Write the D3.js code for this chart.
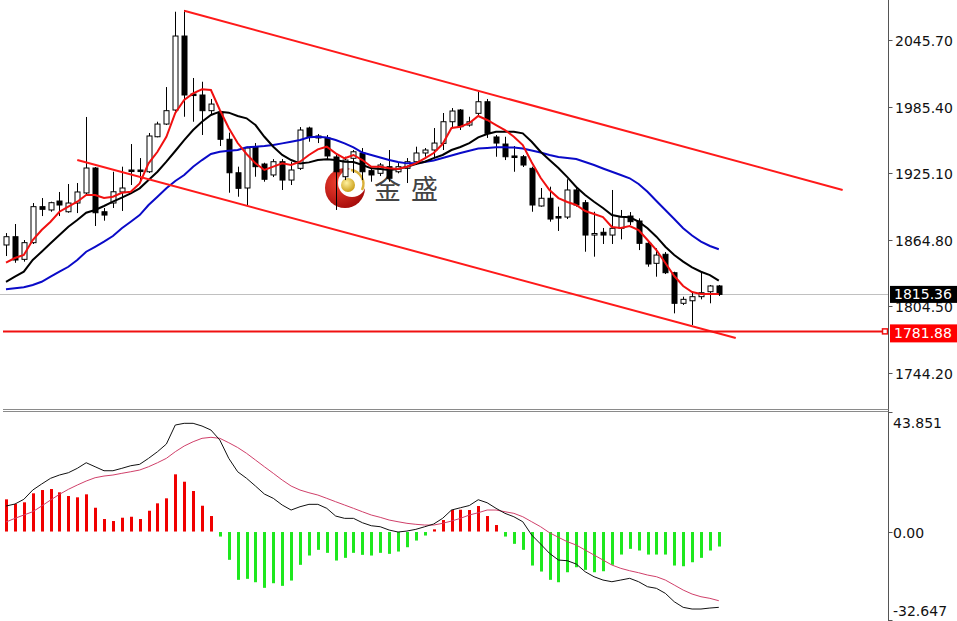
<!DOCTYPE html>
<html><head><meta charset="utf-8">
<script src="https://cdn.jsdelivr.net/npm/d3@7"></script>
<style>body{margin:0;background:#fff;overflow:hidden}svg{display:block}</style>
</head><body><svg id="c" width="957" height="621"></svg>
<script>
// ---------- DATA ----------
const opens  = [1860.1,1867.6,1847.1,1862.2,1894.8,1891.8,1899.9,1890.2,1898.1,1907.2,
1929.8,1890.2,1898.1,1908.1,1928.0,1928.0,1926.4,1958.1,1969.6,1982.3,
2049.3,1996.8,1995.9,1981.7,1979.6,1955.8,1925.5,1911.7,1949.1,1933.4,
1923.5,1935.5,1918.9,1929.5,1966.0,1957.0,1957.0,1939.8,1921.9,1938.6,
1943.4,1927.4,1925.0,1931.0,1926.4,1929.5,1935.5,1943.4,1946.1,1952.1,
1971.7,1982.3,1968.7,1979.3,1989.8,1957.9,1951.5,1940.7,1940.0,1929.5,
1895.4,1902.4,1885.9,1885.4,1909.9,1898.4,1869.1,1871.6,1869.1,1875.2,
1886.3,1881.8,1861.6,1843.5,1851.7,1835.0,1807.3,1809.6,1813.3,1817.8,1823.0];
const highs  = [1870.9,1879.1,1864.6,1898.1,1902.6,1899.3,1908.1,1915.3,1916.2,1976.0,
1930.7,1893.6,1926.4,1931.0,1951.5,1938.8,1961.5,1971.7,2003.1,2071.3,
2072.8,2011.3,2007.9,1992.3,1980.8,1961.8,1931.0,1949.1,1952.4,1934.6,
1937.9,1937.9,1935.5,1966.9,1967.2,1960.6,1959.7,1941.6,1940.0,1946.1,
1947.9,1931.0,1934.3,1946.1,1934.3,1938.8,1949.1,1947.9,1966.0,1979.6,
1984.1,1983.2,1976.2,1998.9,1992.3,1959.7,1958.1,1949.7,1941.6,1931.0,
1911.7,1912.9,1894.8,1919.6,1912.9,1900.8,1890.2,1875.5,1909.9,1891.8,
1889.9,1884.2,1864.6,1857.1,1853.7,1835.9,1813.3,1817.8,1835.9,1823.9,1823.9];
const lows   = [1850.1,1844.0,1845.0,1861.0,1886.3,1890.2,1886.3,1889.3,1889.0,1905.3,
1877.3,1882.1,1893.6,1890.9,1914.4,1917.4,1925.3,1957.6,1968.7,1980.8,
1976.2,1971.7,1959.7,1977.8,1949.7,1907.4,1903.8,1896.3,1921.9,1917.4,
1921.6,1909.9,1914.4,1928.0,1953.6,1952.4,1937.9,1891.8,1918.9,1925.3,
1918.9,1917.4,1922.5,1917.4,1925.0,1916.2,1932.5,1940.0,1938.8,1946.1,
1966.0,1964.2,1967.2,1977.8,1957.0,1940.0,1937.0,1926.4,1930.7,1890.2,
1894.8,1881.2,1872.8,1883.6,1894.8,1854.0,1849.5,1861.0,1861.0,1865.2,
1878.2,1855.5,1840.4,1831.4,1833.8,1798.2,1805.8,1787.6,1810.9,1807.3,1813.9];
const closes = [1867.6,1846.5,1862.2,1894.8,1892.4,1898.4,1896.3,1898.1,1908.1,1929.8,
1889.3,1887.2,1908.3,1911.7,1926.6,1926.6,1958.8,1969.6,1981.7,2049.3,
1995.9,1995.4,1981.7,1987.7,1955.8,1925.5,1911.4,1947.9,1931.0,1919.6,
1935.5,1918.9,1928.0,1964.2,1957.9,1958.8,1940.7,1926.4,1937.0,1944.5,
1926.4,1923.5,1932.5,1920.5,1931.0,1935.5,1943.4,1946.1,1952.4,1971.7,
1981.4,1967.2,1971.7,1989.8,1961.2,1952.4,1940.0,1939.3,1932.5,1896.3,
1902.4,1883.6,1884.5,1909.9,1896.3,1869.1,1870.5,1869.1,1875.2,1885.7,
1881.2,1861.6,1842.9,1851.0,1835.0,1807.3,1810.9,1813.3,1816.9,1823.0,1815.36];
const maFast = [1844.1,1848.3,1851.0,1864.6,1873.7,1881.2,1890.2,1894.8,1899.3,1905.3,
1905.3,1902.6,1903.8,1907.4,1908.3,1915.9,1934.0,1944.5,1958.1,1979.6,
1991.4,1997.4,2001.0,2000.4,1982.3,1966.0,1952.4,1942.5,1934.0,1928.0,
1931.0,1934.0,1932.5,1935.5,1941.6,1946.7,1949.1,1943.1,1938.6,1941.6,
1937.0,1931.0,1931.0,1929.5,1928.9,1931.0,1934.0,1938.6,1943.4,1951.5,
1966.0,1967.2,1970.5,1976.9,1973.3,1968.7,1964.2,1958.1,1950.6,1935.0,
1921.0,1909.9,1902.6,1899.0,1896.3,1890.9,1888.1,1885.4,1876.4,1875.5,
1877.3,1873.7,1864.6,1855.5,1843.8,1832.0,1823.0,1817.5,1815.7,1815.7,1815.7];
const maMid = [1826.8,1831.4,1835.9,1846.5,1854.0,1861.6,1869.1,1876.6,1882.7,1889.3,
1891.8,1895.4,1899.3,1902.9,1906.9,1911.4,1918.9,1926.4,1935.5,1945.2,
1955.1,1964.2,1971.7,1977.8,1980.8,1979.9,1976.9,1974.8,1968.7,1958.1,
1949.1,1941.6,1937.0,1934.0,1934.9,1937.0,1937.7,1937.0,1935.5,1935.2,
1932.5,1929.5,1928.9,1928.0,1928.9,1931.0,1933.4,1935.5,1938.8,1941.6,
1946.1,1948.8,1952.4,1957.6,1960.6,1962.7,1962.7,1962.7,1961.2,1953.6,
1944.5,1937.0,1929.8,1921.6,1912.6,1905.3,1899.3,1893.6,1887.2,1885.7,
1885.2,1881.2,1875.2,1867.6,1858.5,1851.0,1845.0,1839.9,1835.9,1832.9,1827.8];
const maSlow = [1820.0,1820.9,1821.8,1823.9,1826.8,1831.4,1835.9,1840.4,1846.5,1854.0,
1858.5,1863.1,1868.2,1875.2,1881.2,1887.2,1896.3,1903.8,1911.4,1918.0,
1923.5,1931.0,1937.0,1942.5,1944.5,1945.5,1946.1,1948.5,1949.1,1949.7,
1950.6,1952.1,1953.6,1955.1,1957.6,1958.1,1957.4,1955.1,1952.1,1948.4,
1943.8,1941.6,1939.3,1937.0,1935.2,1934.0,1934.0,1935.2,1936.6,1938.8,
1941.1,1943.4,1945.5,1947.4,1947.9,1948.5,1948.5,1948.4,1947.4,1945.6,
1943.8,1941.6,1939.8,1938.8,1937.9,1935.2,1932.5,1929.4,1926.4,1923.5,
1920.5,1915.3,1908.3,1899.9,1891.8,1883.6,1875.2,1868.7,1863.1,1859.2,1856.2];
const macdHist = [11.84,10.11,10.74,14.05,15.26,15.63,14.42,13.06,12.58,13.68,
8.75,4.60,3.86,5.08,5.44,4.60,7.65,10.37,12.21,21.04,
18.32,14.90,9.49,5.70,-1.66,-10.22,-17.58,-17.21,-18.46,-20.52,
-18.83,-19.79,-17.84,-12.06,-8.64,-6.55,-7.65,-10.48,-9.49,-7.65,
-8.39,-8.64,-7.65,-8.02,-7.17,-5.59,-3.13,-1.29,0.81,4.23,
7.91,8.02,7.91,9.38,5.70,2.39,-1.66,-4.34,-6.55,-12.32,
-14.53,-17.58,-18.46,-14.79,-12.95,-13.90,-14.79,-14.42,-12.06,-8.28,
-6.18,-6.80,-8.28,-8.28,-8.28,-12.32,-12.58,-11.11,-9.49,-6.80,-5.33];
const macdLine = [9.38,10.11,11.84,15.26,17.47,19.57,20.78,21.63,23.24,25.30,
23.83,22.36,22.36,23.24,24.20,24.72,26.92,29.35,32.18,39.17,
39.80,39.80,38.80,37.33,33.65,26.92,21.99,19.57,16.73,13.79,
12.21,9.75,7.91,9.12,10.00,10.00,8.53,5.70,4.85,4.85,
3.24,2.13,1.77,0.55,-0.18,0.18,0.81,1.77,2.76,4.85,
7.91,8.75,9.56,11.70,10.59,8.53,6.69,5.44,3.60,-1.29,
-4.60,-8.02,-10.48,-10.74,-11.95,-14.79,-16.62,-17.84,-18.46,-17.84,
-17.21,-18.46,-20.30,-20.89,-22.73,-25.82,-27.88,-28.50,-28.50,-28.14,-27.88];
const macdSignal = [3.49,4.85,6.07,7.28,9.38,11.59,13.68,15.52,17.10,18.57,
19.79,20.41,20.78,21.41,21.99,22.62,23.83,25.30,26.92,29.35,
31.45,33.03,34.28,34.65,34.28,32.66,30.90,28.76,26.30,23.83,
21.41,18.94,16.73,15.26,14.27,13.42,12.21,10.96,9.75,8.53,
7.28,6.07,5.22,4.23,3.60,3.02,2.65,2.39,2.39,3.02,
3.86,4.85,6.07,6.91,7.91,7.91,7.28,6.69,5.44,3.60,
1.77,-0.44,-2.13,-3.75,-4.97,-6.80,-8.64,-10.48,-12.32,-13.54,
-14.42,-15.15,-16.00,-16.62,-17.84,-19.68,-21.52,-22.99,-23.98,-24.57,-25.45];
const priceTicks = [2045.70,1985.40,1925.10,1864.80,1804.50,1744.20];
const macdTicks = [43.851,0.00,-32.647];
const upperChannel = [[20.0,2072.2],[93.9,1909.9]];
const lowerChannel = [[8.0,1937.1],[81.9,1775.9]];
const lastPrice = 1815.36;
const levelPrice = 1781.88;
const logoText = "金盛";

// ---------- LAYOUT ----------
const svg = d3.select("#c");
const axisX = 888.5;
const n = closes.length;
const x = d3.scaleLinear().domain([0, n-1]).range([6, 718.8]);
const y = d3.scaleLinear().domain([1744.2, 2045.7]).range([373, 40]);
const ym = d3.scaleLinear().domain([-32.647, 43.851]).range([620.3, 412.3]);
const font = "DejaVu Sans, Verdana, sans-serif";

const main = svg.append("g");
main.append("clipPath").attr("id","mc").append("rect").attr("x",0).attr("y",0).attr("width",axisX).attr("height",408);

// logo watermark (background)
const logo = main.append("g");
const defs = svg.append("defs");
const rg = defs.append("radialGradient").attr("id","lg").attr("cx","35%").attr("cy","35%").attr("r","75%");
rg.append("stop").attr("offset","0%").attr("stop-color","#f04030");
rg.append("stop").attr("offset","100%").attr("stop-color","#a00808");
const gg = defs.append("radialGradient").attr("id","gb").attr("cx","40%").attr("cy","35%").attr("r","70%");
gg.append("stop").attr("offset","0%").attr("stop-color","#fff2a0");
gg.append("stop").attr("offset","100%").attr("stop-color","#c89a10");
logo.append("circle").attr("cx",345).attr("cy",188).attr("r",20).attr("fill","url(#lg)");
logo.append("circle").attr("cx",352).attr("cy",183).attr("r",14).attr("fill","#fff");
logo.append("path").attr("d","M 351 170 A 14 14 0 0 1 362 190").attr("fill","none").attr("stroke","#d9b03a").attr("stroke-width",2.5);
logo.append("circle").attr("cx",348).attr("cy",185).attr("r",7).attr("fill","url(#gb)");
logo.append("text").attr("x",374).attr("y",199).attr("font-family","Noto Sans CJK SC").attr("font-size",27)
  .attr("fill","#444").attr("letter-spacing","10px").text(logoText);

const plot = main.append("g").attr("clip-path","url(#mc)");

// bid line
plot.append("line").attr("x1",0).attr("x2",axisX).attr("y1",Math.round(y(lastPrice))+0.5).attr("y2",Math.round(y(lastPrice))+0.5)
  .attr("stroke","#c0c0c0").attr("stroke-width",1);

// candles
const idx = d3.range(n);
const cg = plot.append("g");
cg.selectAll("line.w").data(idx).join("line")
  .attr("x1",i=>Math.round(x(i))+0.5).attr("x2",i=>Math.round(x(i))+0.5)
  .attr("y1",i=>y(highs[i])).attr("y2",i=>y(lows[i])).attr("stroke","#000").attr("stroke-width",1);
cg.selectAll("rect.b").data(idx).join("rect")
  .attr("x",i=>Math.round(x(i))-2)
  .attr("width",5)
  .attr("y",i=>y(Math.max(opens[i],closes[i])))
  .attr("height",i=>Math.max(1, Math.abs(y(opens[i])-y(closes[i]))))
  .attr("fill",i=>closes[i]>=opens[i]?"#fff":"#000")
  .attr("stroke","#000").attr("stroke-width",1);

// moving averages
const ln = d3.line().x((d,i)=>x(i)).y(d=>y(d)).curve(d3.curveLinear);
plot.append("path").attr("d",ln(maSlow)).attr("fill","none").attr("stroke","#0a0ac8").attr("stroke-width",2);
plot.append("path").attr("d",ln(maMid)).attr("fill","none").attr("stroke","#000").attr("stroke-width",2);
plot.append("path").attr("d",ln(maFast)).attr("fill","none").attr("stroke","#f01010").attr("stroke-width",2);

// channel lines
[upperChannel, lowerChannel].forEach(c=>{
  plot.append("line").attr("x1",x(c[0][0])).attr("y1",y(c[0][1])).attr("x2",x(c[1][0])).attr("y2",y(c[1][1]))
    .attr("stroke","#ff1a1a").attr("stroke-width",2);
});

// horizontal level
const yl = y(levelPrice);
plot.append("line").attr("x1",3).attr("x2",884).attr("y1",yl).attr("y2",yl).attr("stroke","#f01010").attr("stroke-width",2);
plot.append("rect").attr("x",882.5).attr("y",yl-2.5).attr("width",5).attr("height",5).attr("fill","#fff").attr("stroke","#f01010").attr("stroke-width",1.5);

// ---------- MACD ----------
const sub = svg.append("g");
const z = ym(0);
sub.selectAll("rect.h").data(idx).join("rect")
  .attr("x",i=>Math.round(x(i))-1)
  .attr("width",3)
  .attr("y",i=>macdHist[i]>=0?ym(macdHist[i]):z+0.5)
  .attr("height",i=>Math.max(1.5,Math.abs(ym(macdHist[i])-z)))
  .attr("fill",i=>macdHist[i]>=0?"#f00000":"#1ee81e");
const lm = d3.line().x((d,i)=>x(i)).y(d=>ym(d));
sub.append("path").attr("d",lm(macdSignal)).attr("fill","none").attr("stroke","#d0406a").attr("stroke-width",1);
sub.append("path").attr("d",lm(macdLine)).attr("fill","none").attr("stroke","#111").attr("stroke-width",1);

// ---------- FRAME & AXES ----------
svg.append("line").attr("x1",axisX).attr("x2",axisX).attr("y1",0).attr("y2",621).attr("stroke","#555").attr("stroke-width",1);
svg.append("line").attr("x1",3).attr("x2",axisX).attr("y1",409.5).attr("y2",409.5).attr("stroke","#8a8a8a");
svg.append("line").attr("x1",3).attr("x2",axisX).attr("y1",411.5).attr("y2",411.5).attr("stroke","#8a8a8a");

const ax = svg.append("g");
priceTicks.forEach(t=>{
  const yy = Math.round(y(t))+0.5;
  ax.append("line").attr("x1",axisX).attr("x2",axisX+4).attr("y1",yy).attr("y2",yy).attr("stroke","#555");
  ax.append("text").attr("x",895).attr("y",yy).attr("dy","0.36em").attr("font-family",font).attr("font-size",14)
    .attr("fill","#111").text(d3.format(".2f")(t));
});
const mfmt = [t=>"43.851", t=>"0.00", t=>"-32.647"];
const mOff = [10, 0, -10];
macdTicks.forEach((t,k)=>{
  const yy = Math.round(ym(t))+0.5;
  ax.append("line").attr("x1",axisX).attr("x2",axisX+4).attr("y1",yy).attr("y2",yy).attr("stroke","#555");
  ax.append("text").attr("x",893).attr("y",yy+mOff[k]).attr("dy","0.36em").attr("font-family",font).attr("font-size",14)
    .attr("fill","#111").text(t===0?"0.00":(t>0?t.toFixed(3):t.toFixed(3)));
});

// price boxes
const yp = y(lastPrice);
ax.append("rect").attr("x",890).attr("y",yp-8.5).attr("width",67).attr("height",17).attr("fill","#000");
ax.append("text").attr("x",894).attr("y",yp).attr("dy","0.36em").attr("font-family",font).attr("font-size",14)
  .attr("fill","#fff").text(lastPrice.toFixed(2));
ax.append("rect").attr("x",890).attr("y",yl-7).attr("width",67).attr("height",18).attr("fill","#ff0000");
ax.append("text").attr("x",894).attr("y",yl+2).attr("dy","0.36em").attr("font-family",font).attr("font-size",14)
  .attr("fill","#fff").text(levelPrice.toFixed(2));
</script></body></html>
